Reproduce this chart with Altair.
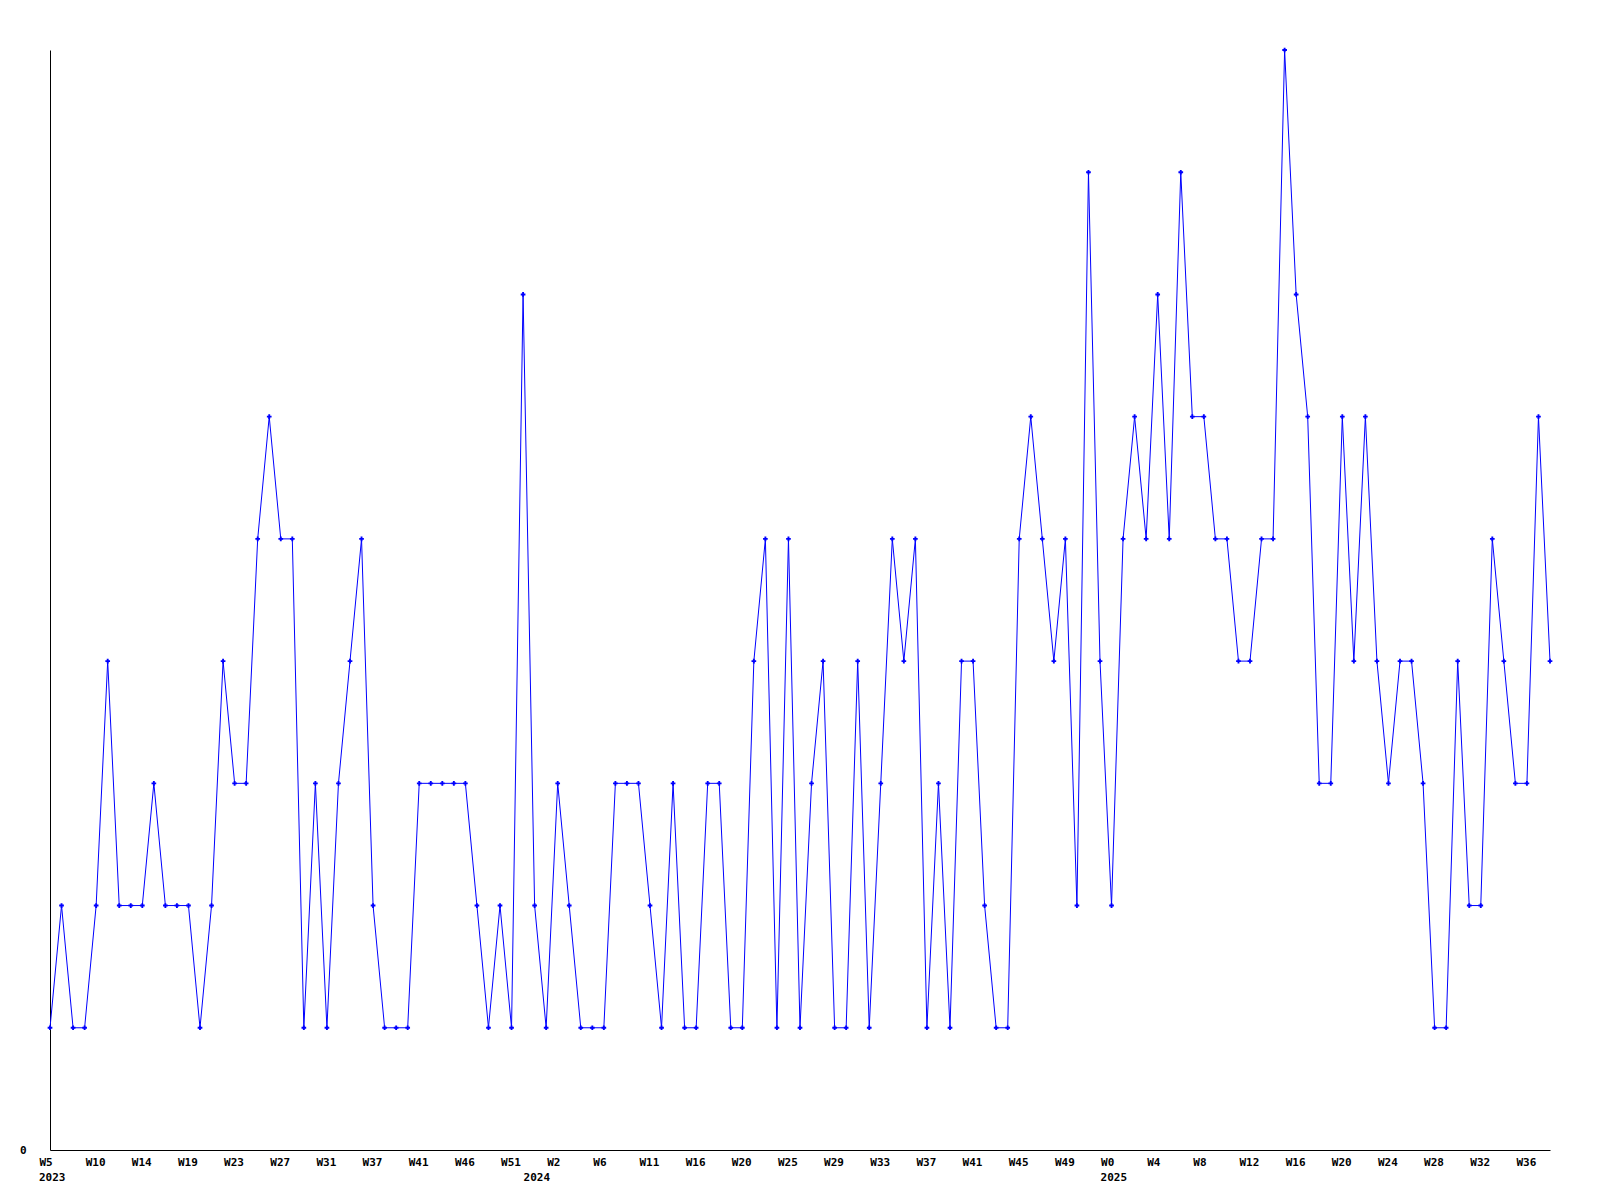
import altair as alt
import pandas as pd

values = [
    1, 2, 1, 1, 2, 4, 2, 2, 2, 3, 2, 2, 2, 1, 2, 4, 3, 3, 5, 6, 5, 5, 1,
    3, 1, 3, 4, 5, 2, 1, 1, 1, 3, 3, 3, 3, 3, 2, 1, 2, 1, 7, 2, 1, 3, 2,
    1, 1, 1, 3, 3, 3, 2, 1, 3, 1, 1, 3, 3, 1, 1, 4, 5, 1, 5, 1, 3, 4,
    1, 1, 4, 1, 3, 5, 4, 5, 1, 3, 1, 4, 4, 2, 1, 1, 5, 6, 5, 4, 5, 2, 8,
    4, 2, 5, 6, 5, 7, 5, 8, 6, 6, 5, 5, 4, 4, 5, 5, 9, 7, 6, 3, 3, 6,
    4, 6, 4, 3, 4, 4, 3, 1, 1, 4, 2, 2, 5, 4, 3, 3, 6, 4,
]

week_labels = [
    "W5", "W10", "W14", "W19", "W23", "W27", "W31", "W37", "W41", "W46", "W51",
    "W2", "W6", "W11", "W16", "W20", "W25", "W29", "W33", "W37", "W41", "W45", "W49",
    "W0", "W4", "W8", "W12", "W16", "W20", "W24", "W28", "W32", "W36",
]
week_label_pos = [4 * k for k in range(len(week_labels))]

years = ["2023", "2024", "2025"]
year_pos = [0, 42, 92]

df = pd.DataFrame({"i": list(range(len(values))), "v": values})
ydf = pd.DataFrame({"i": year_pos, "year": years})

FONT = "DejaVu Sans Mono"
W, H = 1500, 1100

label_array = "[" + ",".join("'" + t + "'" for t in week_labels) + "]"

xscale = alt.Scale(domain=[0, len(values) - 1], nice=False, zero=False)
yscale = alt.Scale(domain=[0, 9], nice=False)

xaxis = alt.Axis(
    values=week_label_pos,
    labelExpr=label_array + "[round(datum.value/4)]",
    ticks=False, grid=False, domainColor="black", domainWidth=1,
    labelFont=FONT, labelFontWeight="bold", labelFontSize=11, labelColor="black",
    labelAlign="left", labelOffset=-11, labelPadding=6, labelOverlap=False,
    labelFlush=False, title=None,
)
yaxis = alt.Axis(
    values=[0], format="d", ticks=False, grid=False, domainColor="black", domainWidth=1,
    labelFont=FONT, labelFontWeight="bold", labelFontSize=11, labelColor="black",
    labelPadding=24, title=None,
)

line = alt.Chart(df).mark_line(color="#0000ff", strokeWidth=1).encode(
    x=alt.X("i:Q", scale=xscale, axis=xaxis),
    y=alt.Y("v:Q", scale=yscale, axis=yaxis),
)
pts = alt.Chart(df).mark_point(
    shape="cross", filled=True, size=22, color="#0000ff", opacity=1
).encode(x=alt.X("i:Q", scale=xscale), y=alt.Y("v:Q", scale=yscale))

yr = alt.Chart(ydf).mark_text(
    align="left", baseline="top", dx=-11, font=FONT, fontWeight="bold",
    fontSize=11, color="black",
).encode(x=alt.X("i:Q", scale=xscale), y=alt.value(H + 22), text="year:N")

chart = alt.layer(line, pts, yr).properties(
    width=W, height=H,
    padding={"left": 42, "top": 42, "right": 40, "bottom": 50},
    autosize=alt.AutoSizeParams(type="none"),
    background="white",
).configure_view(stroke=None)

chart.save("out.html", embed_options={"renderer": "svg", "actions": False})
